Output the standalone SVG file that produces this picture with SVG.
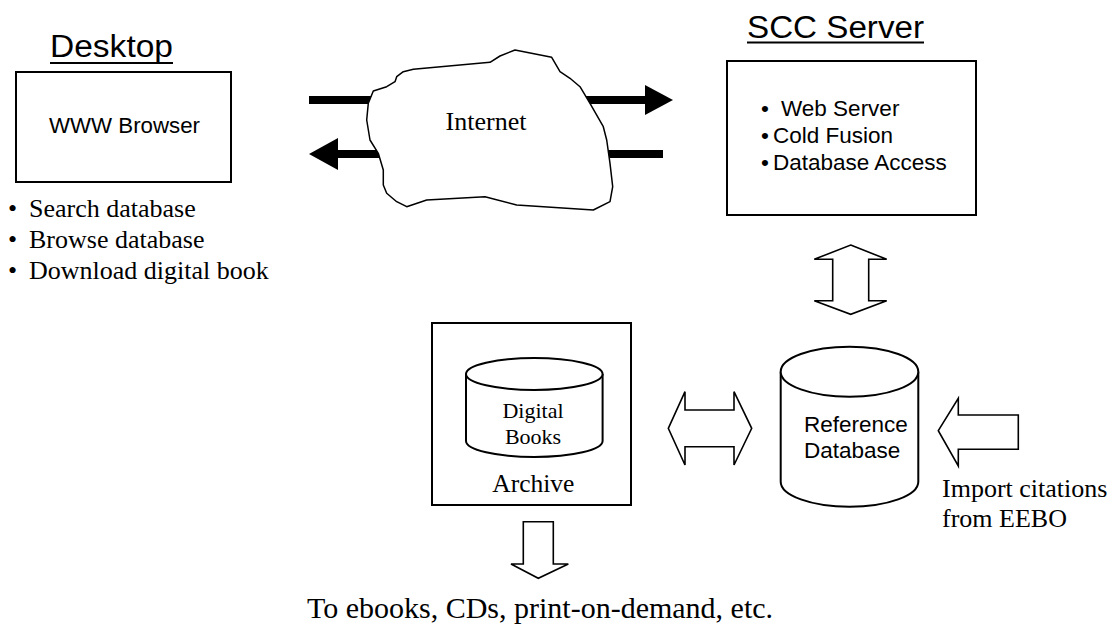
<svg xmlns="http://www.w3.org/2000/svg" width="1112" height="631" viewBox="0 0 1112 631">
<style>
.box{fill:#fff;stroke:#000;stroke-width:2}
.cyl{fill:#fff;stroke:#000;stroke-width:2}
.ol{fill:#fff;stroke:#000;stroke-width:1.6;stroke-linejoin:miter}
.sans{font-family:"Liberation Sans",Arial,sans-serif;fill:#000}
.serif{font-family:"Liberation Serif","Times New Roman",serif;fill:#000}
.title{font-size:31px}
.ul{stroke:#000;stroke-width:2.2}
.fat{stroke:#000;stroke-width:8}
</style>
<rect width="1112" height="631" fill="#fff"/>

<g id="connectors">
  <!-- top arrow to server -->
  <line class="fat" x1="309" y1="100" x2="646" y2="100"/>
  <polygon points="645,85 673,100 645,115" fill="#000"/>
  <!-- bottom arrow to desktop -->
  <line class="fat" x1="337" y1="154" x2="663" y2="154"/>
  <polygon points="338,138 309,154 338,170" fill="#000"/>
  <!-- server <-> reference db -->
  <polygon class="ol" points="850.7,245 886.7,259.3 868.7,259.3 868.7,300.7 886.7,300.7 850.7,314.3 814.3,300.7 832.7,300.7 832.7,259.3 814.3,259.3"/>
  <!-- archive <-> reference db -->
  <polygon class="ol" points="668.3,428.3 685,391.7 685,410 734,410 734,391.7 751.7,428.3 734,465 734,446.7 685,446.7 685,465"/>
  <!-- import from EEBO -->
  <polygon class="ol" points="938.3,430.7 958.3,398.3 958.3,415 1018.3,415 1018.3,449.3 958.3,449.3 958.3,466"/>
  <!-- archive output -->
  <polygon class="ol" points="523.3,521.7 553.3,521.7 553.3,564 568.3,564 538.3,578.3 511,564 523.3,564"/>
</g>

<g id="internet">
  <path fill="#fff" stroke="#000" stroke-width="1.5" stroke-linejoin="round" d="M373.3,91 L386.7,86.7 L395,81.7 L396.7,76.7 L403.3,71.7 L413.3,69.3 L490,62.3 L500,56 L515,50 L551.7,57.3 L560,71.7 L570,78.3 L580,86.7 L590,103.3 L603.3,126.7 L606.7,140 L610,163.3 L612.7,186.7 L610,201.7 L593.3,210 L516.7,205 L485,196.7 L426.7,200 L406.7,206.7 L396.7,201.7 L386.7,193.3 L383.3,185 L383.3,170 L378.3,153.3 L370,140 L366.7,120 L368.3,103.3 Z"/>
  <text class="serif" x="486" y="130" font-size="26" text-anchor="middle">Internet</text>
</g>

<g id="desktop">
  <text class="sans title" x="50" y="57" textLength="123" lengthAdjust="spacingAndGlyphs">Desktop</text>
  <line class="ul" x1="50" y1="63" x2="173" y2="63"/>
  <rect class="box" x="16" y="72" width="215" height="110"/>
  <text class="sans" x="49" y="133" font-size="21.5" textLength="151" lengthAdjust="spacingAndGlyphs">WWW Browser</text>
  <g class="serif" font-size="26">
    <text x="8" y="217">•</text><text x="29" y="217">Search database</text>
    <text x="8" y="248">•</text><text x="29" y="248">Browse database</text>
    <text x="8" y="279">•</text><text x="29" y="279">Download digital book</text>
  </g>
</g>

<g id="scc-server">
  <text class="sans title" x="747" y="38" font-size="30" textLength="177" lengthAdjust="spacingAndGlyphs">SCC Server</text>
  <line class="ul" x1="747" y1="42.5" x2="924" y2="42.5"/>
  <rect class="box" x="727" y="61" width="249" height="154"/>
  <g class="sans" font-size="22.5">
    <text x="761" y="116">•</text><text x="781" y="116">Web Server</text>
    <text x="761" y="143">•</text><text x="773" y="143">Cold Fusion</text>
    <text x="761" y="170">•</text><text x="773" y="170">Database Access</text>
  </g>
</g>

<g id="reference-database">
  <path class="cyl" d="M780.7,371.7 L780.7,481.7 A68.8,25 0 0 0 918.3,481.7 L918.3,371.7"/>
  <ellipse class="cyl" cx="849.5" cy="371.7" rx="68.8" ry="25"/>
  <text class="sans" x="804" y="432" font-size="22.5">Reference</text>
  <text class="sans" x="804" y="458" font-size="22.5">Database</text>
</g>

<g id="archive">
  <rect class="box" x="432" y="323" width="199" height="182"/>
  <path class="cyl" d="M466,374 L466,441 A68.3,16 0 0 0 602.6,441 L602.6,374"/>
  <ellipse class="cyl" cx="534.3" cy="374" rx="68.3" ry="16"/>
  <text class="serif" x="533" y="418" font-size="22" text-anchor="middle">Digital</text>
  <text class="serif" x="533" y="444" font-size="22" text-anchor="middle">Books</text>
  <text class="serif" x="533.3" y="492" font-size="25.5" text-anchor="middle">Archive</text>
</g>

<g id="eebo-label">
  <text class="serif" x="942" y="497" font-size="26">Import citations</text>
  <text class="serif" x="942" y="527" font-size="26">from EEBO</text>
</g>

<g id="output-label">
  <text class="serif" x="540" y="618" font-size="30" text-anchor="middle">To ebooks, CDs, print-on-demand, etc.</text>
</g>
</svg>
